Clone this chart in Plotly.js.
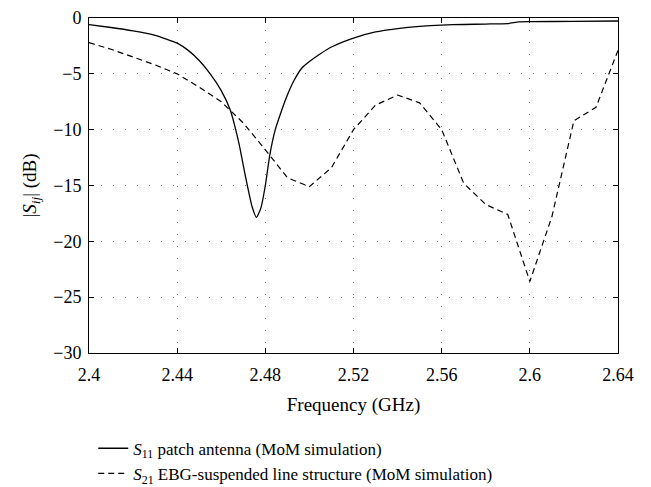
<!DOCTYPE html>
<html>
<head>
<meta charset="utf-8">
<script src="https://cdn.plot.ly/plotly-3.0.1.min.js"></script>
<style>html,body{margin:0;padding:0;background:#fff;}</style>
</head>
<body>
<div id="chart" style="width:651px;height:487px;"></div>
<script>
// S11 patch antenna (MoM simulation)
const s11Freq = [2.40, 2.41, 2.42, 2.43, 2.44, 2.445, 2.45, 2.455, 2.46, 2.464, 2.468, 2.471, 2.474, 2.476, 2.478, 2.480, 2.482, 2.4845, 2.487, 2.490, 2.493, 2.4965, 2.500, 2.505, 2.51, 2.52, 2.53, 2.54, 2.55, 2.56, 2.57, 2.58, 2.59, 2.595, 2.60, 2.62, 2.64];
const s11dB = [-0.6, -0.85, -1.15, -1.55, -2.25, -2.9, -3.8, -5.0, -6.5, -8.2, -11.2, -14.2, -16.9, -17.85, -17.0, -15.0, -12.3, -10.0, -8.5, -6.9, -5.6, -4.5, -3.9, -3.2, -2.6, -1.8, -1.25, -0.95, -0.75, -0.63, -0.58, -0.54, -0.5, -0.35, -0.33, -0.3, -0.27];

// S21 EBG-suspended line structure (MoM simulation)
const s21Freq = [2.40, 2.41, 2.42, 2.43, 2.44, 2.45, 2.46, 2.47, 2.48, 2.49, 2.50, 2.51, 2.52, 2.53, 2.54, 2.55, 2.56, 2.57, 2.58, 2.59, 2.60, 2.61, 2.62, 2.63, 2.64];
const s21dB = [-2.2, -2.8, -3.5, -4.2, -5.0, -6.2, -7.5, -9.4, -11.8, -14.3, -15.1, -13.4, -10.0, -7.8, -6.9, -7.6, -10.0, -14.8, -16.7, -17.6, -23.6, -17.8, -9.2, -8.0, -2.9];

const xTicks = [2.4, 2.44, 2.48, 2.52, 2.56, 2.6, 2.64];
const xTickLabels = ["2.4", "2.44", "2.48", "2.52", "2.56", "2.6", "2.64"];
const yTicks = [0, -5, -10, -15, -20, -25, -30];

const seriesNames = [
  "<i>S</i><sub>11</sub> patch antenna (MoM simulation)",
  "<i>S</i><sub>21</sub> EBG-suspended line structure (MoM simulation)"
];

const FONT = "Liberation Serif";

function mkFont(sz) { return {family: FONT, size: sz, color: '#000000'}; }

const traces = [
  {x: s11Freq, y: s11dB, type: 'scatter', mode: 'lines', name: seriesNames[0],
   line: {color: '#000000', width: 1.3, shape: 'spline', smoothing: 0.5}},
  {x: s21Freq, y: s21dB, type: 'scatter', mode: 'lines', name: seriesNames[1],
   line: {color: '#000000', width: 1.2, dash: '6px,4px'}}
];

function axisBase() {
  return {
    showline: true, linecolor: '#000000', linewidth: 1, mirror: 'allticks',
    ticks: 'inside', ticklen: 5, tickcolor: '#000000', tickwidth: 1,
    showgrid: true, gridcolor: '#777777', gridwidth: 1, griddash: '1px,11px',
    zeroline: false, tickfont: mkFont(18)
  };
}

const xaxis = axisBase();
xaxis.range = [2.4, 2.64];
xaxis.tickvals = xTicks;
xaxis.ticktext = xTickLabels;
xaxis.ticklabelstandoff = 5;
xaxis.title = {text: 'Frequency (GHz)', font: mkFont(19), standoff: 14};

const yaxis = axisBase();
yaxis.range = [-30, 0];
yaxis.tickvals = yTicks;
yaxis.ticklabelstandoff = 3;
yaxis.title = {text: '|<i>S</i><sub><i>ij</i></sub>| (dB)', font: mkFont(19), standoff: 11};

const layout = {
  width: 651, height: 487,
  margin: {l: 89, r: 33, t: 18, b: 134, autoexpand: false},
  paper_bgcolor: '#ffffff', plot_bgcolor: '#ffffff',
  font: mkFont(18),
  showlegend: true,
  xaxis: xaxis,
  yaxis: yaxis,
  legend: {
    x: 0.008, xanchor: 'left', y: -0.232, yanchor: 'top',
    orientation: 'v', bgcolor: 'rgba(0,0,0,0)', borderwidth: 0,
    font: mkFont(17),
    tracegroupgap: 0
  }
};

Plotly.newPlot('chart', traces, layout, {displayModeBar: false, staticPlot: true});
</script>
</body>
</html>
